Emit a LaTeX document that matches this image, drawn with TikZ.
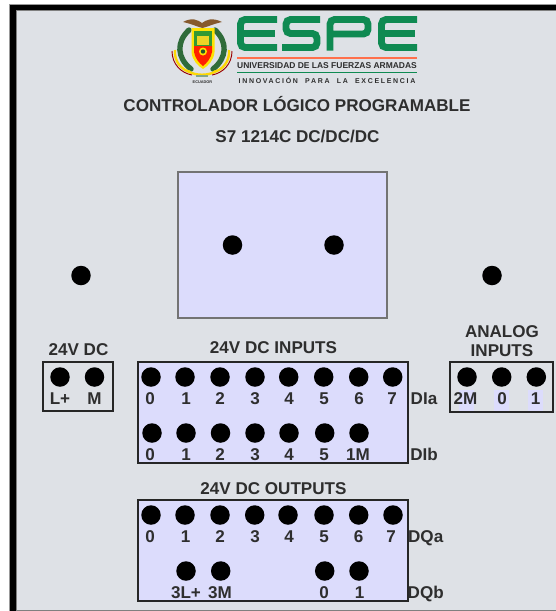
\documentclass[tikz,border=0pt]{standalone}
\usepackage{fontspec}
\setmainfont{Liberation Sans}
\definecolor{panelbg}{HTML}{DEE1E6}
\definecolor{lav}{HTML}{DCDCFC}
\definecolor{ink}{HTML}{2E2E2E}
\definecolor{espegreen}{HTML}{0F8A52}
\definecolor{crest}{HTML}{2F6B3A}
\tikzset{
  hole/.style={circle,fill=black,minimum size=19.5*0.75pt,inner sep=0pt},
  lbl/.style={anchor=base,inner sep=0pt,text=ink,font=\fontsize{12.8}{14}\selectfont\bfseries},
  termbox/.style={draw=black!85,line width=1.5pt},
  espe/.style={draw=espegreen,line width=5.2pt,rounded corners=3.5pt},
  tag/.style={fill=lav,draw=none},
}
\begin{document}
\begin{tikzpicture}[x=0.75pt,y=-0.75pt]
\useasboundingbox (0,0) rectangle (556,611);
% frame
\fill[white] (0,0) rectangle (556,611);
\fill[black!40] (9,4) rectangle (556,611);
\fill[black] (10,5) rectangle (556,611);
\fill[black!50] (16,10) rectangle (556,611);
\fill[panelbg] (16.5,11) rectangle (556,609.7);
% logo letters
\draw[espe,line cap=butt] (277,19.5) -- (240.5,19.5) -- (240.5,47.5) -- (277,47.5);
\draw[espegreen,line width=5.2pt] (240.5,33.5) -- (275,33.5);
\draw[espe] (320,19.5) -- (286,19.5) -- (286,33.5) -- (317,33.5) -- (317,47.5) -- (282,47.5);
\draw[espe] (330,50.7) -- (330,19.5) -- (368,19.5) -- (368,34) -- (330,34);
\draw[espe] (417,19.5) -- (381.5,19.5) -- (381.5,47.5) -- (417,47.5);
\draw[espegreen,line width=5.2pt] (381.5,33.5) -- (415,33.5);
\draw[red!60!orange!70,line width=0.8pt] (237,58) -- (417,58);
\draw[espegreen,line width=0.8pt] (237,72.7) -- (417,72.7);
\node[anchor=base,inner sep=0pt,text=ink,font=\fontsize{6.35}{7}\selectfont\bfseries] (univ) at (327,68.5) {UNIVERSIDAD DE LAS FUERZAS ARMADAS};
\node[anchor=base,inner sep=0pt,text=ink,font=\fontsize{5.25}{6}\selectfont\bfseries\addfontfeature{LetterSpace=24}] (innov) at (327,83) {INNOVACIÓN\ \ PARA\ \ LA\ \ EXCELENCIA};
% crest
\draw[crest,line width=4pt,line cap=round] (189,30) .. controls (176,42) and (177,58) .. (191,69);
\draw[crest,line width=4pt,line cap=round] (215,30) .. controls (228,42) and (227,58) .. (213,69);
\draw[yellow!75!orange,line width=1.8pt] (188,71) .. controls (195,76) and (209,76) .. (216,71);
\draw[yellow!75!orange,line width=1.8pt] (175,50) .. controls (174,62) and (182,70) .. (190,72);
\draw[yellow!75!orange,line width=1.8pt] (229,50) .. controls (230,62) and (222,70) .. (214,72);
\draw[red!60!black,line width=0.7pt] (172,51) .. controls (172,64) and (181,73) .. (192,75);
\draw[red!60!black,line width=0.7pt] (232,51) .. controls (232,64) and (223,73) .. (212,75);
\fill[yellow!85!orange] (191.5,28) -- (214.5,28) -- (214.5,52) .. controls (214,60) and (208,66) .. (203,69) .. controls (198,66) and (192,60) .. (191.5,52) -- cycle;
\fill[red!75!orange] (194,46) -- (212,46) -- (212,52) .. controls (211,58) and (207,63) .. (203,66) .. controls (199,63) and (195,58) .. (194,52) -- cycle;
\fill[green!50!black!80] (194,31) rectangle (212,46);
\fill[yellow!70!brown] (197,36) rectangle (209,45);
\fill[yellow!85!orange] (203,51.5) circle (4);
\fill[crest!80!black] (203,51.5) circle (2.2);
\fill[brown!70!black] (183,22) .. controls (192,17) and (198,20) .. (202,23) .. controls (206,20) and (212,17) .. (222,22) .. controls (213,24) and (207,27) .. (202.5,28) .. controls (198,27) and (192,24) .. (183,22) -- cycle;
\fill[crest!60] (196,75.3) rectangle (208,77);
\node[anchor=base,inner sep=0pt,text=ink,font=\fontsize{2.9}{3}\selectfont\bfseries] (ecu) at (202.5,83) {ECUADOR};
% titles
\node[lbl] (title) at (297,111) {CONTROLADOR LÓGICO PROGRAMABLE};
\node[lbl] (model) at (297.5,142) {S7 1214C DC/DC/DC};
% central module
\draw[fill=lav,draw=black!55,line width=1.1pt] (178,172) rectangle (387,318);
\foreach \n/\x/\y in {pa/232.5/245,pb/334/245,pc/81/275.5,pd/492/275.5}
  \node[hole] (\n) at (\x,\y) {};
% boxes
\draw[termbox,fill=panelbg] (43,362) rectangle (113,410.5);
\draw[termbox,fill=lav] (138,362) rectangle (407.5,463);
\draw[termbox,fill=panelbg] (450,362) rectangle (552.5,412);
\draw[termbox,fill=lav] (138,500) rectangle (407.5,601);
% analog label tags
\fill[tag] (459,390) rectangle (474,411);
\fill[tag] (494,390) rectangle (509,411);
\fill[tag] (528,390) rectangle (543,411);
% headings
\node[lbl] (hdc) at (78.5,355.5) {24V DC};
\node[lbl] (hin) at (273.5,353) {24V DC INPUTS};
\node[lbl] (han) at (502,337) {ANALOG};
\node[lbl] (hai) at (502,356) {INPUTS};
\node[lbl] (hou) at (273.5,494.5) {24V DC OUTPUTS};
% power
\foreach \n/\x/\t in {a/60/L+,b/94.5/M}{
  \node[hole] (pw\n) at (\x,377) {};
  \node[lbl] (pwt\n) at (\x,404) {\t};
}
% analog
\foreach \n/\x/\lx/\t in {a/467/465.5/2M,b/501.7/502/0,c/536.3/535.5/1}{
  \node[hole] (ai\n) at (\x,377) {};
  \node[lbl] (ait\n) at (\lx,404) {\t};
}
% DIa
\foreach \n/\x/\lx/\t in {0/151/150/0,1/185/186/1,2/220/220/2,3/255/255/3,4/288.7/289/4,5/323.7/324/5,6/358.7/359/6,7/392.7/392/7}{
  \node[hole] (dia\n) at (\x,377) {};
  \node[lbl] (diat\n) at (\lx,404) {\t};
}
% DIb
\foreach \n/\x/\lx/\t in {0/152/150/0,1/186/186/1,2/220.5/220/2,3/255/255/3,4/289/289/4,5/324.7/324/5,6/359/358/1M}{
  \node[hole] (dib\n) at (\x,433) {};
  \node[lbl] (dibt\n) at (\lx,460) {\t};
}
% DQa
\foreach \n/\x/\lx/\t in {0/151/150/0,1/185/185.5/1,2/220/220/2,3/254.7/255/3,4/288/289/4,5/324/324/5,6/358.7/358.7/6,7/393/391/7}{
  \node[hole] (dqa\n) at (\x,515) {};
  \node[lbl] (dqat\n) at (\lx,542.5) {\t};
}
% DQb
\foreach \n/\x/\lx/\t in {0/186/186/3L+,1/220.7/220/3M,2/324.7/324/0,3/359/359.5/1}{
  \node[hole] (dqb\n) at (\x,571) {};
  \node[lbl] (dqbt\n) at (\lx,598) {\t};
}
% side labels
\node[lbl] (sa) at (424,404) {DIa};
\node[lbl] (sb) at (424,460) {DIb};
\node[lbl] (sc) at (425.7,542.5) {DQa};
\node[lbl] (sd) at (425.7,598) {DQb};
\end{tikzpicture}
\end{document}
